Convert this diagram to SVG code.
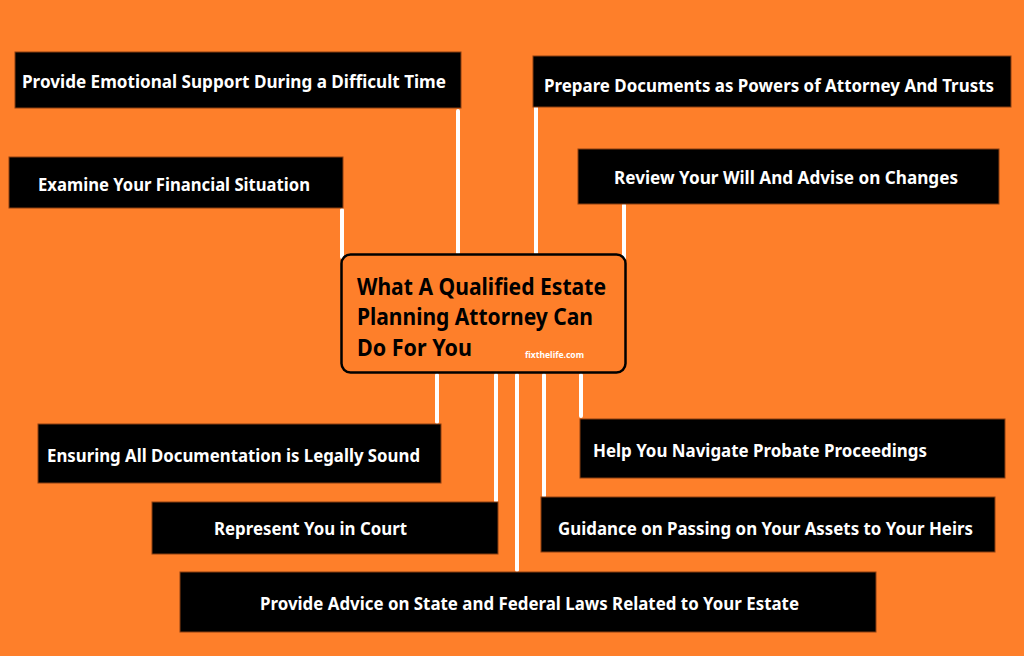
<svg xmlns="http://www.w3.org/2000/svg" width="1024" height="656" viewBox="0 0 1024 656">
<style>
.box{fill:#000;stroke:#8a3f10;stroke-width:1}
.lbl{fill:#fff;font-family:"Noto Sans","Open Sans",sans-serif;font-weight:700;font-size:18px;dominant-baseline:central}
.conn line{stroke:#fff;stroke-width:4;stroke-linecap:round}
.title{fill:#000;font-family:"Noto Sans","Open Sans",sans-serif;font-weight:700;font-size:22.5px}
</style>
<rect width="1024" height="656" fill="#FE7F2A"/>
<g class="conn" id="connectors">
<line x1="458" y1="111" x2="458" y2="253"/>
<line x1="342" y1="210" x2="342" y2="257"/>
<line x1="536" y1="104" x2="536" y2="253"/>
<line x1="624" y1="205" x2="624" y2="261"/>
<line x1="437" y1="375" x2="437" y2="422"/>
<line x1="496" y1="375" x2="496" y2="501"/>
<line x1="517" y1="375" x2="517" y2="570"/>
<line x1="544" y1="375" x2="544" y2="496"/>
<line x1="581" y1="375" x2="581" y2="416"/>
</g>
<g id="center">
<rect x="341.5" y="254.5" width="284" height="118" rx="9" fill="#FE7F2A" stroke="#000" stroke-width="2.5"/>
<text class="title" x="357" y="295" textLength="249" lengthAdjust="spacingAndGlyphs">What A Qualified Estate</text>
<text class="title" x="357" y="325" textLength="236" lengthAdjust="spacingAndGlyphs">Planning Attorney Can</text>
<text class="title" x="357" y="356" textLength="115" lengthAdjust="spacingAndGlyphs">Do For You</text>
<text x="525" y="358" fill="#fff" font-family="'Noto Sans',sans-serif" font-weight="700" font-size="9" textLength="59" lengthAdjust="spacingAndGlyphs">fixthelife.com</text>
</g>
<g id="n-emotional">
<rect class="box" x="15" y="52" width="446" height="56"/>
<text class="lbl" x="22" y="81" textLength="424" lengthAdjust="spacingAndGlyphs">Provide Emotional Support During a Difficult Time</text>
</g>
<g id="n-examine">
<rect class="box" x="9" y="157" width="334" height="51"/>
<text class="lbl" x="38" y="184" textLength="272" lengthAdjust="spacingAndGlyphs">Examine Your Financial Situation</text>
</g>
<g id="n-prepare">
<rect class="box" x="533" y="56" width="478" height="51"/>
<text class="lbl" x="544" y="85" textLength="450" lengthAdjust="spacingAndGlyphs">Prepare Documents as Powers of Attorney And Trusts</text>
</g>
<g id="n-review">
<rect class="box" x="578" y="149" width="421" height="55"/>
<text class="lbl" x="614" y="177" textLength="344" lengthAdjust="spacingAndGlyphs">Review Your Will And Advise on Changes</text>
</g>
<g id="n-ensuring">
<rect class="box" x="38" y="424" width="403" height="59"/>
<text class="lbl" x="47" y="455" textLength="373" lengthAdjust="spacingAndGlyphs">Ensuring All Documentation is Legally Sound</text>
</g>
<g id="n-represent">
<rect class="box" x="152" y="502" width="346" height="52"/>
<text class="lbl" x="214" y="528" textLength="193" lengthAdjust="spacingAndGlyphs">Represent You in Court</text>
</g>
<g id="n-help">
<rect class="box" x="580" y="419" width="425" height="59"/>
<text class="lbl" x="593" y="450" textLength="334" lengthAdjust="spacingAndGlyphs">Help You Navigate Probate Proceedings</text>
</g>
<g id="n-guidance">
<rect class="box" x="541" y="497" width="454" height="55"/>
<text class="lbl" x="558" y="528" textLength="415" lengthAdjust="spacingAndGlyphs">Guidance on Passing on Your Assets to Your Heirs</text>
</g>
<g id="n-advice">
<rect class="box" x="180" y="572" width="696" height="60"/>
<text class="lbl" x="260" y="603" textLength="539" lengthAdjust="spacingAndGlyphs">Provide Advice on State and Federal Laws Related to Your Estate</text>
</g>
</svg>
